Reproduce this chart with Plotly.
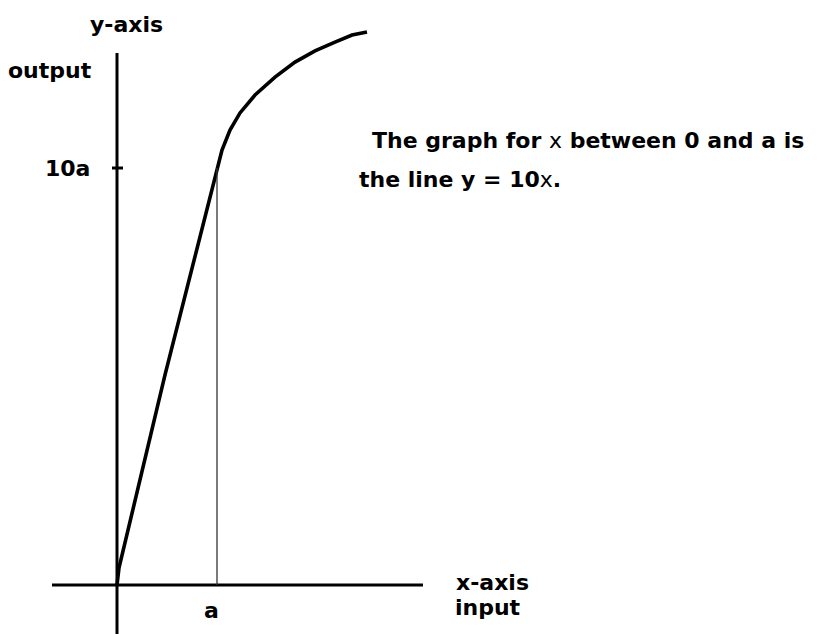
import plotly.graph_objects as go

# Input values (in units of a) and output values of the sketched function
x_input = [0, 0.02, 0.48, 1.0, 1.05, 1.13, 1.23, 1.38, 1.58, 1.78, 1.98, 2.18, 2.35, 2.50]
y_output = [0, 0.41, 5.04, 10.0, 10.43, 10.91, 11.32, 11.75, 12.18, 12.54, 12.81, 13.02, 13.19, 13.26]

# Marked point on each axis
x_tick_vals = [1.0]
x_tick_text = ["a"]
y_tick_vals = [10.0]
y_tick_text = ["10a"]

# Extents of the hand-drawn axes
x_axis_span = [-0.65, 3.06]
y_axis_span = [-1.25, 12.76]

FONT = "DejaVu Sans"

fig = go.Figure()

fig.add_trace(go.Scatter(
    x=x_input, y=y_output, mode="lines",
    line=dict(color="black", width=3.6),
    hoverinfo="skip", showlegend=False,
))

shapes = [
    # x-axis
    dict(type="line", xref="x", yref="y", x0=x_axis_span[0], x1=x_axis_span[1], y0=0, y1=0,
         line=dict(color="black", width=3)),
    # y-axis
    dict(type="line", xref="x", yref="y", x0=0, x1=0, y0=y_axis_span[0], y1=y_axis_span[1],
         line=dict(color="black", width=3)),
]
# tick mark on the y-axis at 10a
for yv in y_tick_vals:
    shapes.append(dict(type="line", xref="x", yref="y", x0=-0.05, x1=0.06, y0=yv, y1=yv,
                       line=dict(color="black", width=3)))
# thin guide from a up to the curve
for xv, yv in zip(x_tick_vals, y_tick_vals):
    shapes.append(dict(type="line", xref="x", yref="y", x0=xv, x1=xv, y0=0, y1=yv,
                       line=dict(color="#333333", width=1.3)))

bold = dict(family=FONT, size=22, color="black", weight="bold")

annotations = [
    dict(x=0.09, y=13.45, xref="x", yref="y", text="y-axis", showarrow=False,
         xanchor="center", yanchor="middle", font=bold),
    dict(x=-0.23, y=12.33, xref="x", yref="y", text="output", showarrow=False,
         xanchor="right", yanchor="middle", font=bold),
    dict(x=-0.25, y=y_tick_vals[0], xref="x", yref="y", text=y_tick_text[0], showarrow=False,
         xanchor="right", yanchor="middle", font=bold),
    dict(x=x_tick_vals[0], y=-0.6, xref="x", yref="y", text=x_tick_text[0], showarrow=False,
         xanchor="center", yanchor="middle", font=bold, xshift=-6),
    dict(x=3.37, y=0.05, xref="x", yref="y", text="x-axis", showarrow=False,
         xanchor="left", yanchor="middle", font=bold),
    dict(x=3.36, y=-0.53, xref="x", yref="y", text="input", showarrow=False,
         xanchor="left", yanchor="middle", font=bold),
    dict(x=2.53, y=10.65, xref="x", yref="y",
         text="The graph for <span style='font-weight:normal'>x</span> between 0 and a is",
         showarrow=False, xanchor="left", yanchor="middle", font=bold),
    dict(x=2.40, y=9.72, xref="x", yref="y",
         text="the line y = 10<span style='font-weight:normal'>x</span>.",
         showarrow=False, xanchor="left", yanchor="middle", font=bold),
]

fig.update_layout(
    width=817, height=634,
    margin=dict(l=0, r=0, t=0, b=0),
    paper_bgcolor="white", plot_bgcolor="white",
    xaxis=dict(range=[-1.17, 7.0], visible=False, fixedrange=True),
    yaxis=dict(range=[-1.175, 14.029], visible=False, fixedrange=True),
    shapes=shapes, annotations=annotations,
    showlegend=False,
)

fig.write_html("out.html")
